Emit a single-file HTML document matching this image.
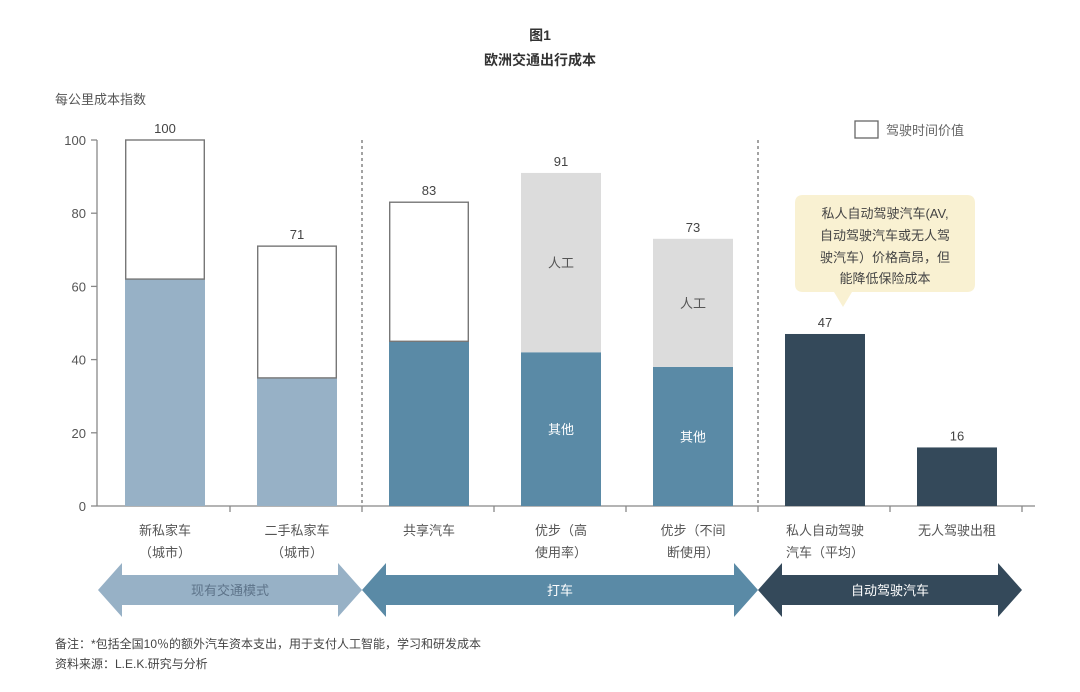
<!DOCTYPE html>
<html><head><meta charset="utf-8"><style>
body{margin:0;background:#fff;}
svg{display:block;font-family:"Liberation Sans","Noto Sans CJK SC",sans-serif;}
</style></head><body>
<svg id="c" width="1080" height="692" viewBox="0 0 1080 692">
<text x="540" y="40" text-anchor="middle" font-size="14" font-weight="bold" fill="#333">图1</text>
<text x="540" y="65" text-anchor="middle" font-size="14" font-weight="bold" fill="#333">欧洲交通出行成本</text>
<text x="55" y="104" font-size="13" fill="#555">每公里成本指数</text>
<rect x="855" y="121" width="23" height="17" fill="#fff" stroke="#666" stroke-width="1.3"/>
<text x="886" y="135" font-size="13" fill="#666">驾驶时间价值</text>
<g id="bars"></g>
<g>
<path d="M803,195 H967 Q975,195 975,203 V284 Q975,292 967,292 H852 L843,307 L834,292 H803 Q795,292 795,284 V203 Q795,195 803,195 Z" fill="#f9f1d2"/>
<text text-anchor="middle" font-size="13" fill="#444"><tspan x="885" y="218">私人自动驾驶汽车(AV,</tspan><tspan x="885" y="240">自动驾驶汽车或无人驾</tspan><tspan x="885" y="262">驶汽车）价格高昂，但</tspan><tspan x="885" y="283">能降低保险成本</tspan></text>
</g>
<text x="55" y="648" font-size="12" fill="#444">备注：*包括全国10％的额外汽车资本支出，用于支付人工智能，学习和研发成本</text>
<text x="55" y="668" font-size="12" fill="#444">资料来源：L.E.K.研究与分析</text>
</svg>
<script>
const categories=["新私家车|（城市）","二手私家车|（城市）","共享汽车","优步（高|使用率）","优步（不间|断使用）","私人自动驾驶|汽车（平均）","无人驾驶出租"];
const totals=[100,71,83,91,73,47,16];
const baseValues=[62,35,45,42,38,47,16];
const topKind=["time","time","time","labor","labor","none","none"];
const yTicks=[0,20,40,60,80,100];
const groups=["现有交通模式","打车","自动驾驶汽车"];
const groupSpans=[[0,2],[2,5],[5,7]];

const NS="http://www.w3.org/2000/svg";
const g=document.getElementById('bars');
const x0=99,bw=132,barW=80,y0=506,ppu=3.66;
const y=v=>y0-v*ppu;
const xc=i=>x0+bw*(i+0.5);
function el(t,a,p){const e=document.createElementNS(NS,t);for(const k in a)e.setAttribute(k,a[k]);(p||g).appendChild(e);return e;}
const baseColor=i=>i<2?"#97b1c6":(i<5?"#5a8aa6":"#34495a");
// axes
const ya=el('line',{x1:97,x2:97,y1:y(100),y2:y0,stroke:"#888","stroke-width":1.3});

const xa=el('line',{x1:97,x2:1035,y1:y0,y2:y0,stroke:"#888","stroke-width":1.3});

yTicks.forEach(v=>{
  el('line',{x1:91,x2:97,y1:y(v),y2:y(v),stroke:"#888","stroke-width":1.3});
  const t=el('text',{x:86,y:y(v)+5,"text-anchor":"end","font-size":13,fill:"#555"});t.textContent=v;
  
});
for(let i=0;i<=7;i++){if(i>0)el('line',{x1:x0+bw*i-1,x2:x0+bw*i-1,y1:y0,y2:y0+6,stroke:"#888","stroke-width":1.3});}
[2,5].forEach(k=>{const d=el('line',{x1:x0+bw*k-1,x2:x0+bw*k-1,y1:y(100),y2:y0,stroke:"#666","stroke-width":1.2,"stroke-dasharray":"3,3"});
});
categories.forEach((c,i)=>{
  const cx=xc(i),l=cx-barW/2;
  const b=el('rect',{x:l,y:y(baseValues[i]),width:barW,height:baseValues[i]*ppu,fill:baseColor(i)});
  
  if(topKind[i]!=="none"){
    const h=(totals[i]-baseValues[i])*ppu;
    const tp=topKind[i]==="time"?el('rect',{x:l+0.7,y:y(totals[i]),width:barW-1.4,height:h,fill:"#fff",stroke:"#777","stroke-width":1.4}):el('rect',{x:l,y:y(totals[i]),width:barW,height:h,fill:"#dcdcdc"});
    
    if(topKind[i]==="labor"){
      const lt=el('text',{x:cx,y:y((totals[i]+baseValues[i])/2)+5,"text-anchor":"middle","font-size":13,fill:"#555"});lt.textContent="人工";
      
      const ot=el('text',{x:cx,y:y(baseValues[i]/2)+5,"text-anchor":"middle","font-size":13,fill:"#fff"});ot.textContent="其他";
      
    }
  }
  const vt=el('text',{x:cx,y:y(totals[i])-7,"text-anchor":"middle","font-size":13,fill:"#444"});vt.textContent=totals[i];
  
  const parts=c.split('|');
  const ct=el('text',{"text-anchor":"middle","font-size":13,fill:"#555"});
  
  parts.forEach((p,j)=>{const s=el('tspan',{x:cx,y:535+j*22},ct);s.textContent=p;});
});
const arrowColors=["#97b1c6","#5a8aa6","#34495a"],arrowText=["#5d7389","#fff","#fff"];
groups.forEach((gname,k)=>{
  const a=x0+bw*groupSpans[k][0]-1,b=x0+bw*groupSpans[k][1]-1,h=24;
  const p=el('path',{d:`M${a},590 L${a+h},563 V575 H${b-h} V563 L${b},590 L${b-h},617 V605 H${a+h} V617 Z`,fill:arrowColors[k]});
  
  const t=el('text',{x:(a+b)/2,y:595,"text-anchor":"middle","font-size":13,fill:arrowText[k]});t.textContent=gname;
  
});
</script>
</body></html>
